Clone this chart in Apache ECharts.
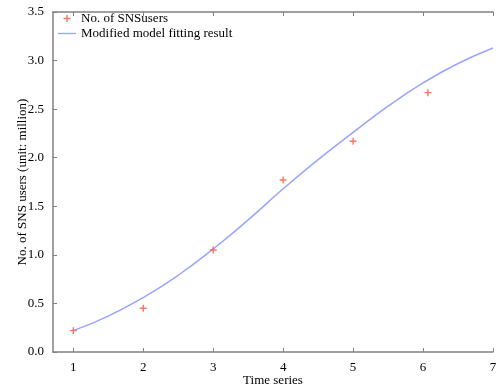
<!DOCTYPE html>
<html><head><meta charset="utf-8">
<script src="https://cdn.jsdelivr.net/npm/echarts@6/dist/echarts.min.js"></script>
<style>html,body{margin:0;padding:0;background:#fff}#c{width:500px;height:388px}</style>
</head><body><div id="c"></div>
<script>
var obsX = [1, 2, 3, 4, 5, 6.07];
var obsY = [0.22, 0.45, 1.05, 1.77, 2.17, 2.67];
var fitX = [1, 1.5, 2, 2.5, 3, 3.5, 4, 4.5, 5, 5.5, 6, 6.5, 7];
var fitY = [0.22, 0.37, 0.56, 0.79, 1.06, 1.36, 1.68, 1.98, 2.26, 2.53, 2.77, 2.97, 3.13];
var xTicks = [1, 2, 3, 4, 5, 6, 7];
var yTicks = [0, 0.5, 1, 1.5, 2, 2.5, 3, 3.5];

var font = 'Liberation Serif';
var star = 'path://M4,0 L6,0 L6,4 L10,4 L10,6 L6,6 L6,10 L4,10 L4,6 L0,6 L0,4 L4,4 Z';
var lineIcon = 'path://M0,0 L20,0 L20,1.5 L0,1.5 Z';
var chart = echarts.init(document.getElementById('c'), null, {renderer: 'canvas'});
var axLine = {lineStyle: {color: '#808080', width: 1.5}};
chart.setOption({
  animation: false,
  grid: {left: 53, right: 7, top: 12, bottom: 36, containLabel: false, outerBoundsMode: 'none'},
  legend: {
    left: 53, top: 7, orient: 'vertical', itemGap: 2, itemWidth: 18, itemHeight: 7,
    textStyle: {fontFamily: font, fontSize: 13, color: '#000'},
    data: [{name: 'No. of SNSusers', icon: star, itemStyle: {color: '#f5553a'}},
           {name: 'Modified model fitting result', icon: lineIcon, itemStyle: {color: '#98a4ff'}}]
  },
  xAxis: [{
    type: 'value', min: 0.71, max: 7, position: 'bottom',
    name: 'Time series', nameLocation: 'middle', nameGap: 22, nameMoveOverlap: false,
    nameTextStyle: {fontFamily: font, fontSize: 13, color: '#000'},
    axisLine: axLine, splitLine: {show: false},
    axisTick: {inside: true, length: 4, customValues: xTicks, lineStyle: {color: '#808080'}},
    axisLabel: {customValues: xTicks, fontFamily: font, fontSize: 13, color: '#000', margin: 9}
  }, {
    type: 'value', min: 0.71, max: 7, position: 'top',
    axisLine: axLine, splitLine: {show: false},
    axisTick: {inside: true, length: 4, customValues: xTicks, lineStyle: {color: '#808080'}},
    axisLabel: {show: false}
  }],
  yAxis: [{
    type: 'value', min: 0, max: 3.5, interval: 0.5,
    name: 'No. of SNS users (unit: million)', nameLocation: 'middle', nameGap: 24, nameMoveOverlap: false,
    nameTextStyle: {fontFamily: font, fontSize: 13, color: '#000'},
    axisLine: {show: true, lineStyle: {color: '#808080', width: 1.5}}, splitLine: {show: false},
    axisTick: {show: true, inside: true, length: 4, lineStyle: {color: '#808080'}},
    axisLabel: {fontFamily: font, fontSize: 13, color: '#000', margin: 9,
      formatter: function (v) { return v.toFixed(1); }}
  }],
  series: [{
    name: 'No. of SNSusers', type: 'scatter', symbol: star, symbolSize: 7,
    itemStyle: {color: '#f5553a'},
    data: obsX.map(function (x, i) { return [x, obsY[i]]; }), z: 3
  }, {
    name: 'Modified model fitting result', type: 'line', smooth: true, showSymbol: false,
    lineStyle: {color: '#98a4ff', width: 1.5}, itemStyle: {color: '#98a4ff'},
    data: fitX.map(function (x, i) { return [x, fitY[i]]; })
  }]
});
</script></body></html>
